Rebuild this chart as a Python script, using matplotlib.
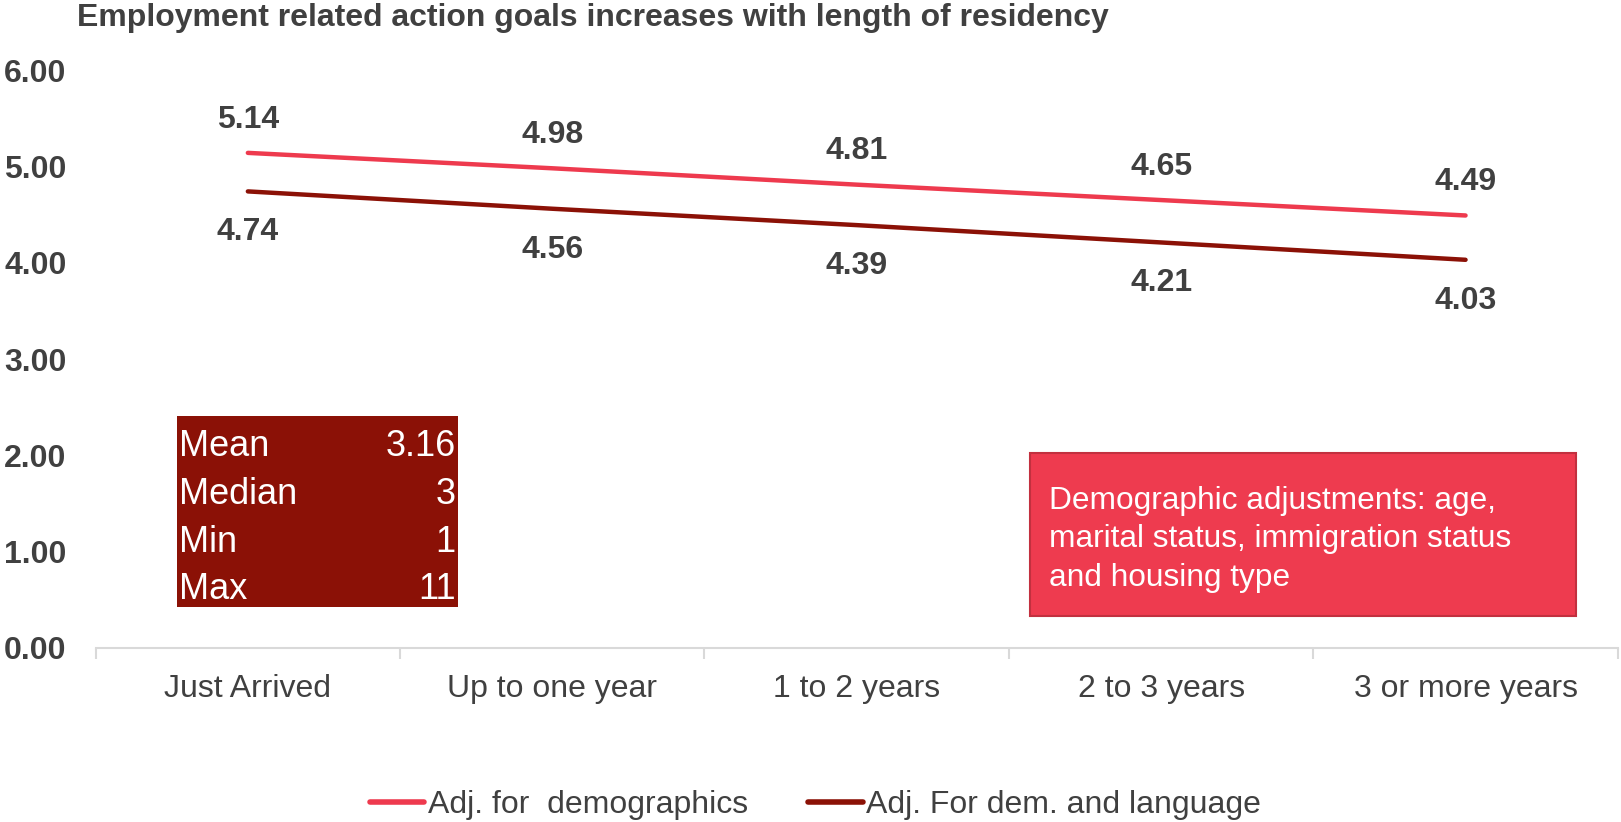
import matplotlib.pyplot as plt
from matplotlib.patches import Rectangle

plt.rcParams['font.family'] = ['Liberation Sans', 'DejaVu Sans']

categories = ['Just Arrived', 'Up to one year', '1 to 2 years', '2 to 3 years', '3 or more years']
adj_demo = [5.14, 4.98, 4.81, 4.65, 4.49]
adj_dem_lang = [4.74, 4.56, 4.39, 4.21, 4.03]
stat_names = ['Mean', 'Median', 'Min', 'Max']
stat_values = ['3.16', '3', '1', '11']

pink = '#EE3A4E'
dark = '#8B1106'
grey = '#404040'

fig = plt.figure(figsize=(16.21, 8.22), dpi=100)
ax = fig.add_axes([0.059, 0.2117, 0.939, 0.7031])

x = list(range(len(categories)))
ax.plot(x, adj_demo, color=pink, lw=3.2, solid_capstyle='round', label='Adj. for  demographics')
ax.plot(x, adj_dem_lang, color=dark, lw=3.2, solid_capstyle='round', label='Adj. For dem. and language')

for xi, v in zip(x, adj_demo):
    ax.annotate(f'{v:.2f}', (xi, v), xytext=(0, 24), textcoords='offset points',
                ha='center', va='center', fontsize=23, fontweight='bold', color=grey)
for xi, v in zip(x, adj_dem_lang):
    ax.annotate(f'{v:.2f}', (xi, v), xytext=(0, -29.5), textcoords='offset points',
                ha='center', va='center', fontsize=23, fontweight='bold', color=grey)

ax.set_xlim(-0.5, 4.5)
ax.set_ylim(0, 6)
ax.set_yticks([0, 1, 2, 3, 4, 5, 6])
ax.set_yticklabels([f'{t:.2f}' for t in range(7)], fontsize=23, fontweight='bold', color=grey)
ax.tick_params(axis='y', length=0, pad=21)
ax.set_xticks(x)
ax.set_xticklabels(categories, fontsize=23, color=grey)
ax.tick_params(axis='x', which='major', length=0, pad=19)
ax.set_xticks([i - 0.5 for i in range(6)], minor=True)
ax.tick_params(axis='x', which='minor', length=8, color='#D9D9D9', width=1.5)
for s in ['top', 'right', 'left']:
    ax.spines[s].set_visible(False)
ax.spines['bottom'].set_color('#D9D9D9')
ax.spines['bottom'].set_linewidth(1.5)

# stats box
ax.add_patch(Rectangle((-0.234, 0.426), 0.923, 1.982, facecolor='#8B1106', edgecolor='none', zorder=3))
row_y = [2.092, 1.593, 1.094, 0.606]
for name, val, yy in zip(stat_names, stat_values, row_y):
    ax.text(-0.227, yy, name, fontsize=26, color='white', ha='left', va='center', zorder=4)
    ax.text(0.682, yy, val, fontsize=26, color='white', ha='right', va='center', zorder=4)

# note box
ax.add_patch(Rectangle((2.568, 0.332), 1.794, 1.692, facecolor='#EE3B4F', edgecolor='#C2303F',
                       lw=1.5, zorder=3))
ax.text(2.632, 1.127, 'Demographic adjustments: age,\nmarital status, immigration status\nand housing type',
        fontsize=22.8, color='white', ha='left', va='center', linespacing=1.36, zorder=4)

fig.text(0.0475, 0.978, 'Employment related action goals increases with length of residency',
         fontsize=23, fontweight='bold', color=grey, ha='left', va='center')

fig.legend(loc='center', bbox_to_anchor=(0.503, 0.021), ncol=2, frameon=False, fontsize=23,
           handlelength=1.7, handletextpad=0.1, columnspacing=1.9, labelcolor=grey)
for line in fig.legends[0].get_lines():
    line.set_linewidth(4)
    line.set_solid_capstyle('round')

fig.savefig('out.png', dpi=100)
